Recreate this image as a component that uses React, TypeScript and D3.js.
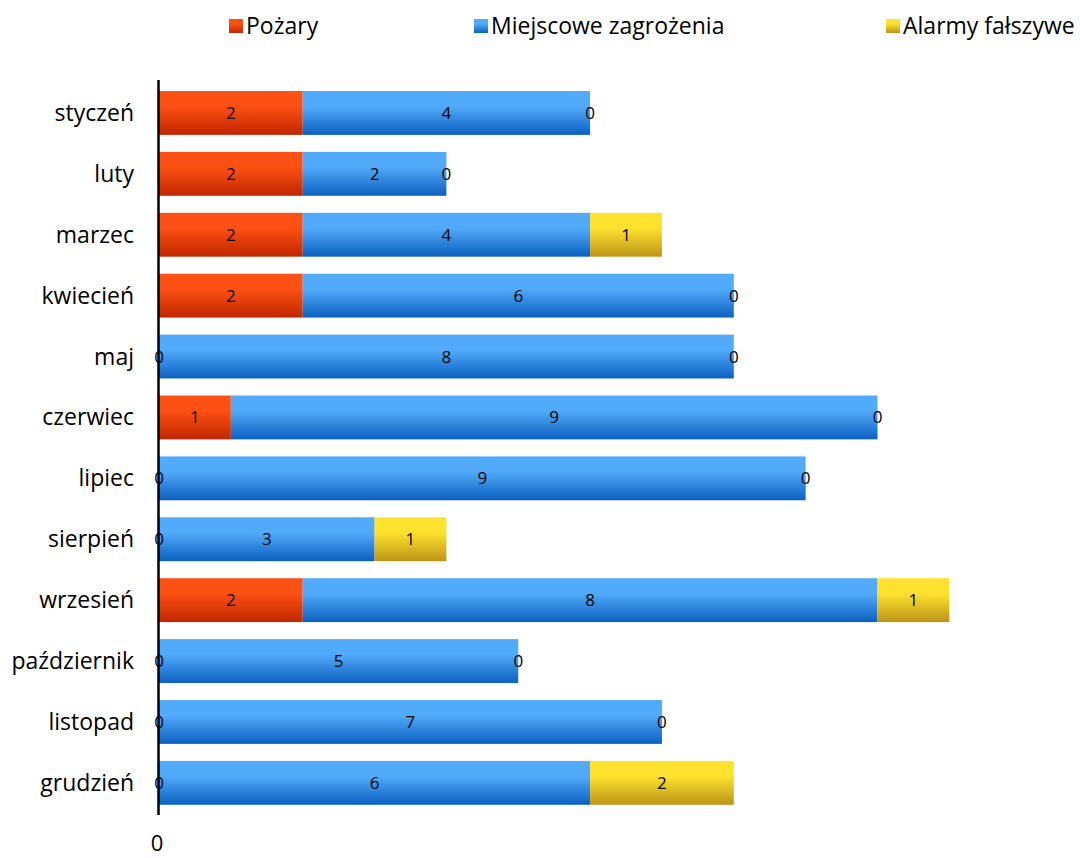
import { useEffect, useRef } from "react";
import * as d3 from "d3";

const MONTHS = [
  "styczeń", "luty", "marzec", "kwiecień", "maj", "czerwiec",
  "lipiec", "sierpień", "wrzesień", "październik", "listopad", "grudzień",
];
const POZARY = [2, 2, 2, 2, 0, 1, 0, 0, 2, 0, 0, 0];
const MIEJSCOWE = [4, 2, 4, 6, 8, 9, 9, 3, 8, 5, 7, 6];
const ALARMY = [0, 0, 1, 0, 0, 0, 0, 1, 1, 0, 0, 2];
const X_TICKS = [0];

const SERIES = [
  { key: "poz", name: "Pożary", values: POZARY, top: "#FD5014", bottom: "#C02600" },
  { key: "mz", name: "Miejscowe zagrożenia", values: MIEJSCOWE, top: "#52AAFA", bottom: "#0B60BF" },
  { key: "af", name: "Alarmy fałszywe", values: ALARMY, top: "#FEE22E", bottom: "#BC9416" },
];

const W = 1080;
const H = 858;
const FONT = "'Open Sans', Lato, sans-serif";

export default function App() {
  const svgRef = useRef<SVGSVGElement>(null);

  useEffect(() => {
    const svg = d3.select(svgRef.current);
    svg.selectAll("*").remove();

    const x = d3.scaleLinear().domain([0, 12]).range([159, 159 + 12 * 71.85]);
    const y = d3.scaleBand<string>()
      .domain(MONTHS)
      .range([82.5, 813.3])
      .paddingInner(0.28)
      .paddingOuter(0.14);

    // ── gradients ──
    const defs = svg.append("defs");
    SERIES.forEach((s) => {
      const lg = defs.append("linearGradient")
        .attr("id", `g-${s.key}`)
        .attr("x1", 0).attr("y1", 0).attr("x2", 0).attr("y2", 1);
      lg.append("stop").attr("offset", "0%").attr("stop-color", s.top);
      lg.append("stop").attr("offset", "35%").attr("stop-color", s.top);
      lg.append("stop").attr("offset", "100%").attr("stop-color", s.bottom);
    });

    // ── stacked bars ──
    const rows = MONTHS.map((m, i) => {
      let acc = 0;
      return SERIES.map((s) => {
        const v = s.values[i];
        const seg = { month: m, key: s.key, v, x0: acc, x1: acc + v };
        acc += v;
        return seg;
      });
    });

    const g = svg.append("g");
    rows.forEach((segs) => {
      segs.forEach((seg) => {
        if (seg.v > 0) {
          g.append("rect")
            .attr("x", x(seg.x0))
            .attr("y", y(seg.month)!)
            .attr("width", x(seg.x1) - x(seg.x0))
            .attr("height", y.bandwidth())
            .attr("fill", `url(#g-${seg.key})`);
        }
      });
    });

    // ── axis line ──
    svg.append("line")
      .attr("x1", 158.5).attr("x2", 158.5)
      .attr("y1", 80).attr("y2", 815)
      .attr("stroke", "#000").attr("stroke-width", 2.5);

    // ── data labels ──
    rows.forEach((segs) => {
      segs.forEach((seg) => {
        g.append("text")
          .attr("x", (x(seg.x0) + x(seg.x1)) / 2)
          .attr("y", y(seg.month)! + y.bandwidth() / 2 + 6)
          .attr("text-anchor", "middle")
          .attr("font-family", FONT)
          .attr("font-size", 17)
          .attr("fill", "#000")
          .text(seg.v);
      });
    });

    // ── category labels ──
    svg.append("g")
      .selectAll("text")
      .data(MONTHS)
      .enter()
      .append("text")
      .attr("x", 134)
      .attr("y", (d) => y(d)! + y.bandwidth() / 2 + 8)
      .attr("text-anchor", "end")
      .attr("font-family", FONT)
      .attr("font-size", 23)
      .attr("fill", "#000")
      .text((d) => d);

    // ── x tick labels ──
    svg.append("g")
      .selectAll("text")
      .data(X_TICKS)
      .enter()
      .append("text")
      .attr("x", (d) => x(d) - 2)
      .attr("y", 851)
      .attr("text-anchor", "middle")
      .attr("font-family", FONT)
      .attr("font-size", 22)
      .attr("fill", "#000")
      .text((d) => d);

    // ── legend ──
    const legendX = [229, 474, 886];
    const lg = svg.append("g");
    SERIES.forEach((s, i) => {
      lg.append("rect")
        .attr("x", legendX[i])
        .attr("y", 19)
        .attr("width", 14)
        .attr("height", 14)
        .attr("fill", `url(#g-${s.key})`);
      lg.append("text")
        .attr("x", legendX[i] + 17)
        .attr("y", 34)
        .attr("font-family", FONT)
        .attr("font-size", 23)
        .attr("fill", "#000")
        .text(s.name);
    });
  }, []);

  return (
    <div style={{ position: "absolute", left: 0, top: 0 }}>
      <svg ref={svgRef} width={W} height={H} style={{ display: "block", background: "#fff" }} />
    </div>
  );
}
